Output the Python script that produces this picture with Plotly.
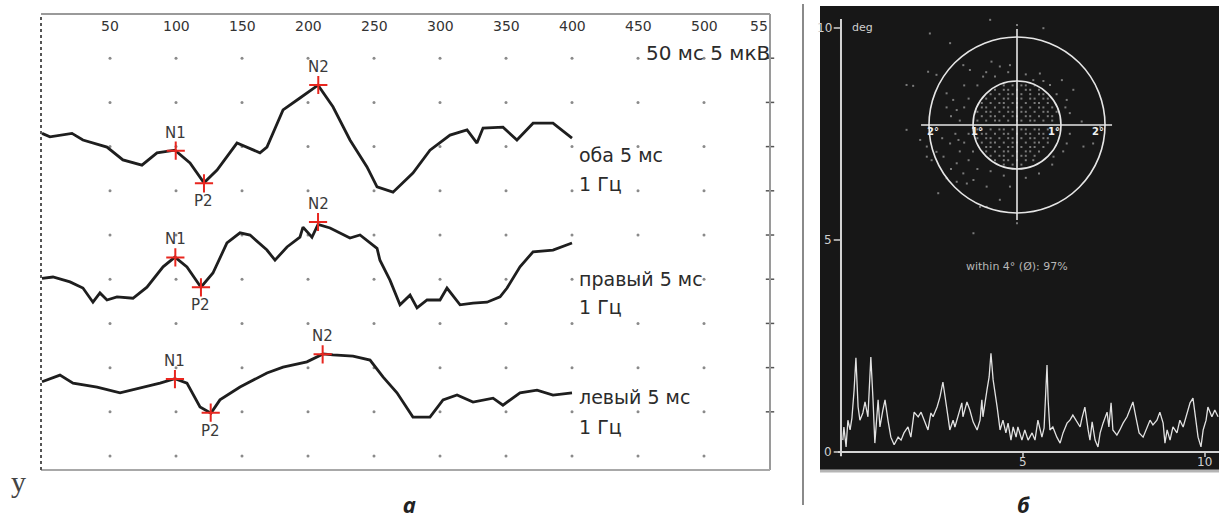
import plotly.graph_objects as go

W, H = 1219, 518


def fx(px):
    """Pixel column -> paper x."""
    return px / W


def fy(py):
    """Pixel row -> paper y."""
    return 1 - py / H


# ---------------- panel а: visual evoked potentials ----------------
# latency, ms / amplitude, µV (relative to each record's own baseline)
lat_both = [-1.5, 4.5, 21.2, 29.5, 47.7, 59.8, 74.2, 85.6, 99.2, 110.6, 121.2, 131.1,
            146.2, 153.8, 163.6, 168.9, 181.1, 193.9, 207.6, 218.9, 231.8, 244.7, 252.3,
            264.4, 279.5, 292.4, 307.6, 320.5, 328.0, 332.6, 347.7, 358.3, 370.5, 385.6, 400.0]
amp_both = [0.0, -0.4, 0.0, -0.75, -1.55, -3.0, -3.6, -2.2, -1.9, -3.35, -5.6, -4.15,
            -1.1, -1.55, -2.2, -1.55, 2.65, 4.0, 5.45, 3.0, -0.75, -3.8, -6.05,
            -6.65, -4.5, -1.9, -0.2, 0.4, -1.1, 0.6, 0.7, -0.75, 1.15, 1.15, -0.55]

lat_right = [-1.5, 6.8, 19.7, 29.5, 37.1, 42.4, 47.7, 55.3, 67.4, 78.0, 90.2, 99.2, 108.3,
             118.9, 128.0, 138.6, 148.5, 156.1, 168.9, 175.0, 184.1, 193.9, 196.2, 203.0,
             207.6, 216.7, 231.8, 239.4, 252.3, 254.5, 262.1, 269.7, 277.3, 282.6, 290.2,
             300.0, 305.3, 315.2, 325.0, 335.6, 345.5, 350.8, 360.6, 370.5, 385.6, 400.0]
amp_right = [0.0, 0.15, -0.4, -1.1, -2.7, -1.65, -2.45, -2.1, -2.25, -1.0, 1.3, 2.4, 1.3,
             -1.0, 0.6, 4.0, 5.15, 4.9, 3.2, 2.05, 3.55, 4.65, 5.8, 4.65,
             6.1, 5.7, 4.55, 4.9, 3.4, 2.05, -0.2, -3.0, -1.9, -3.35, -2.45,
             -2.45, -1.1, -3.0, -2.8, -2.7, -2.1, -1.1, 1.3, 3.0, 3.2, 4.0]

lat_left = [-1.5, 12.1, 22.0, 40.2, 57.6, 72.7, 87.9, 99.2, 108.3, 118.2, 126.5, 133.3,
            148.5, 168.9, 181.1, 199.2, 211.4, 218.9, 234.1, 247.0, 256.8, 267.4, 279.5,
            292.4, 302.3, 312.9, 325.0, 340.2, 347.7, 360.6, 373.5, 385.6, 400.0]
amp_left = [0.0, 0.75, -0.15, -0.6, -1.25, -0.7, -0.15, 0.35, -0.15, -2.85, -3.55, -2.05,
            -0.6, 1.0, 1.65, 2.25, 3.15, 3.05, 2.9, 2.45, 0.55, -1.25, -4.0,
            -4.0, -2.05, -1.5, -2.3, -1.85, -2.65, -1.25, -0.95, -1.5, -1.25]

# N1, P2, N2 components of each record
peak_names = ["N1", "P2", "N2"]
peak_lat_both = [99.8, 121.2, 207.8]
peak_amp_both = [-1.96, -5.65, 5.47]
peak_lat_right = [99.5, 118.9, 207.6]
peak_amp_right = [2.37, -1.02, 6.37]
peak_lat_left = [99.2, 126.3, 211.1]
peak_amp_left = [0.31, -3.5, 3.1]

record_names = ["оба 5 мс", "правый 5 мс", "левый 5 мс"]
record_rate = "1 Гц"

time_ticks = [50, 100, 150, 200, 250, 300, 350, 400, 450, 500, 550]
time_labels = ["50", "100", "150", "200", "250", "300", "350", "400", "450", "500", "55"]
amp_rows = [0, 5, 10, 15, 20, 25, 30, 35, 40, 45]
scale_text = "50 мс 5 мкВ"

# ---------------- panel б: fixation stability ----------------
time_s = [0.05, 0.08, 0.14, 0.19, 0.25, 0.30, 0.36, 0.41, 0.47, 0.52, 0.60, 0.66, 0.74, 0.77,
          0.82, 0.88, 0.93, 1.02, 1.07, 1.15, 1.21, 1.29, 1.37, 1.46, 1.57, 1.65, 1.73, 1.84,
          1.92, 2.01, 2.12, 2.20, 2.28, 2.39, 2.47,
          2.53, 2.64, 2.72, 2.80, 2.88, 2.94, 2.99, 3.08, 3.13, 3.21, 3.32, 3.35, 3.46, 3.54,
          3.63, 3.74, 3.82, 3.87, 3.90, 4.01, 4.07, 4.12, 4.18, 4.29, 4.37, 4.45, 4.53, 4.59,
          4.67, 4.73, 4.81, 4.86, 4.97, 5.05,
          5.14, 5.25, 5.33, 5.41, 5.52, 5.58, 5.66, 5.69, 5.74, 5.82, 5.93, 6.02, 6.10, 6.21,
          6.29, 6.37, 6.48, 6.57, 6.62, 6.70, 6.79, 6.84, 6.90, 6.98, 7.06, 7.12, 7.20, 7.31,
          7.36, 7.42, 7.47, 7.58, 7.66,
          7.75, 7.86, 7.94, 8.02, 8.10, 8.19, 8.30, 8.41, 8.49, 8.57, 8.68, 8.76, 8.85, 8.90,
          8.96, 9.04, 9.12, 9.23, 9.31, 9.40, 9.51, 9.59, 9.67, 9.73, 9.81, 9.89, 9.95, 10.03,
          10.08, 10.19, 10.27, 10.36]
deviation_deg = [0.28, 0.59, 0.12, 0.75, 0.52, 0.80, 1.46, 2.22, 1.06, 0.75, 0.92, 1.18, 0.83, 1.46,
                 2.24, 1.23, 0.21, 1.23, 0.59, 0.99, 1.23, 0.75, 0.35, 0.17, 0.35, 0.28, 0.45, 0.59,
                 0.35, 0.94, 0.83, 0.94, 0.75, 0.52, 0.92,
                 0.83, 1.06, 1.30, 1.65, 1.23, 0.83, 0.52, 0.75, 0.59, 0.83, 1.16, 0.83, 1.18, 0.99,
                 0.71, 0.52, 0.75, 1.23, 0.83, 1.46, 1.77, 2.33, 1.70, 1.06, 0.52, 0.75, 0.45, 0.68,
                 0.28, 0.59, 0.35, 0.59, 0.28, 0.52,
                 0.28, 0.45, 0.28, 0.75, 0.35, 0.57, 2.05, 1.23, 0.52, 0.59, 0.35, 0.21, 0.45, 0.68,
                 0.75, 0.87, 0.71, 0.59, 0.80, 1.06, 0.52, 0.28, 0.71, 0.28, 0.12, 0.45, 0.68, 0.94,
                 0.59, 1.16, 0.52, 0.40, 0.52,
                 0.68, 0.83, 0.99, 1.18, 0.83, 0.45, 0.35, 0.57, 0.75, 0.64, 0.75, 0.94, 0.68, 0.21,
                 0.52, 0.28, 0.59, 0.45, 0.75, 0.59, 0.92, 1.16, 1.27, 0.83, 0.35, 0.12, 0.52, 0.75,
                 1.06, 0.83, 0.99, 0.83]

# fixation points inside the 1° ring, row by row (vertical deg, horizontal deg)
core_row_y = [0.9, 0.8, 0.7, 0.6, 0.5, 0.4, 0.3, 0.2, 0.1, -0.1, -0.2, -0.3, -0.4, -0.5,
              -0.6, -0.7, -0.8, -0.9]
core_row_x = [
    [-0.3, -0.1, 0.1, 0.2, 0.4],
    [-0.5, -0.3, -0.2, 0.0, 0.2, 0.3, 0.5],
    [-0.6, -0.4, -0.2, -0.1, 0.1, 0.3, 0.5, 0.6],
    [-0.7, -0.5, -0.3, -0.2, 0.0, 0.1, 0.3, 0.4, 0.6, 0.7],
    [-0.8, -0.6, -0.4, -0.3, -0.1, 0.0, 0.2, 0.4, 0.5, 0.7],
    [-0.8, -0.7, -0.5, -0.3, -0.2, 0.0, 0.1, 0.3, 0.5, 0.6, 0.8],
    [-0.9, -0.7, -0.6, -0.4, -0.2, -0.1, 0.1, 0.2, 0.4, 0.6, 0.7, 0.9],
    [-0.8, -0.6, -0.5, -0.3, -0.1, 0.0, 0.2, 0.3, 0.5, 0.7, 0.8],
    [-0.9, -0.7, -0.5, -0.4, -0.2, 0.0, 0.1, 0.3, 0.4, 0.6, 0.8],
    [-0.9, -0.8, -0.6, -0.4, -0.3, -0.1, 0.1, 0.2, 0.4, 0.5, 0.7, 0.9],
    [-0.8, -0.7, -0.5, -0.3, -0.2, 0.0, 0.2, 0.3, 0.5, 0.6, 0.8],
    [-0.9, -0.7, -0.6, -0.4, -0.2, -0.1, 0.1, 0.3, 0.4, 0.6, 0.7],
    [-0.8, -0.6, -0.5, -0.3, -0.1, 0.0, 0.2, 0.4, 0.5, 0.7],
    [-0.7, -0.6, -0.4, -0.2, -0.1, 0.1, 0.3, 0.4, 0.6],
    [-0.7, -0.5, -0.3, -0.2, 0.0, 0.2, 0.3, 0.5],
    [-0.6, -0.4, -0.3, -0.1, 0.1, 0.2, 0.4],
    [-0.5, -0.3, -0.2, 0.0, 0.2],
    [-0.3, -0.1, 0.1],
]
# scattered fixation points outside the 1° ring
outer_x = [-0.61, 0.0, 0.60, -1.98, -1.52, -0.58, -0.39, -0.16, -1.22, -1.07, -0.77, -2.02, -1.83,
           0.37, 0.52, 0.75, 1.02, 1.28, -2.51, -2.36, -1.60, -1.45, -1.37, 1.13, 1.20, 1.47,
           -2.51, -2.20, -2.05, -1.83, -1.67, -1.37, -1.22, -0.99, -1.60, -1.37, -1.14, -0.69,
           -0.39, -0.16, 0.37, 0.83, 1.13, 1.51, 1.73, 1.89, -1.79, 0.0, -0.99, -0.84, -2.05,
           -1.94, -1.52, -1.33, -0.69,
           -1.1, -1.2, -1.3, -1.1, -1.2, -1.0, -1.1, -0.9, -1.3, -1.4, -1.5, -1.2, -0.9, -0.7,
           -0.5, -0.2, 0.2, 0.6, 0.9, 1.1, 1.2, 1.05, 0.8, 0.5, 0.2, -0.3, -0.6, -1.5, -1.7, -1.6]
outer_y = [2.39, 2.27, 2.20, 2.08, 1.86, 1.44, 1.33, 1.36, 1.36, 1.25, 1.10, 1.21, 1.14,
           1.02, 1.17, 0.91, 1.02, 0.80, 0.91, 0.89, 0.72, 0.57, 0.34, 0.57, 0.27, 0.08,
           -0.11, -0.34, -0.49, -0.61, -0.72, -0.87, -1.10, -1.25, -1.21, -1.29, -1.33, -1.40,
           -1.70, -1.40, -0.80, -0.72, -0.42, -0.49, -0.42, -0.04, -1.55, -2.23, -2.46, -1.86, -0.72,
           -0.80, -0.42, -0.34, -1.86,
           0.6, 0.4, 0.1, -0.2, -0.4, -0.6, -0.8, -1.0, -0.6, -0.2, 0.2, 0.9, 0.9, 1.2,
           1.1, 1.2, 1.15, 1.0, 0.7, 0.4, -0.2, -0.6, -0.9, -1.1, -1.2, -1.15, -1.05, -1.0, -0.3, 0.4]
ring_deg = [1, 2]
summary_text = "within 4° (Ø): 97%"
dev_ticks = [0, 5, 10]
time_ticks_s = [5, 10]

# ---------------- figure ----------------
fig = go.Figure()

# panel а layout offsets (baseline of each record, in µV of the plot axis)
offsets = [36.5, 20.1, 8.4]
records = [(lat_both, amp_both, peak_lat_both, peak_amp_both),
           (lat_right, amp_right, peak_lat_right, peak_amp_right),
           (lat_left, amp_left, peak_lat_left, peak_amp_left)]

# dotted reference grid
fig.add_trace(go.Scatter(
    x=[t for _ in amp_rows for t in time_ticks[:-1]],
    y=[r for r in amp_rows for _ in time_ticks[:-1]],
    mode="markers", marker=dict(size=3, color="#8a8a8a"),
    xaxis="x", yaxis="y", hoverinfo="skip"))
# ticks on the right frame
fig.add_trace(go.Scatter(
    x=[time_ticks[-1]] * (len(amp_rows) - 1), y=amp_rows[1:],
    mode="markers", marker=dict(symbol="line-ew", size=6, line=dict(width=1.5, color="#555")),
    xaxis="x", yaxis="y", cliponaxis=False, hoverinfo="skip"))

annotations = []
for (lat, amp, plat, pamp), off, name in zip(records, offsets, record_names):
    fig.add_trace(go.Scatter(
        x=lat, y=[a + off for a in amp], mode="lines",
        line=dict(color="#1e1e1e", width=2.8), xaxis="x", yaxis="y"))
    fig.add_trace(go.Scatter(
        x=plat, y=[a + off for a in pamp], mode="markers",
        marker=dict(symbol="cross-thin", size=13, line=dict(width=2, color="#e8261f")),
        xaxis="x", yaxis="y"))
    for pn, pl, pa in zip(peak_names, plat, pamp):
        annotations.append(dict(
            x=pl, y=pa + off, xref="x", yref="y", text=pn, showarrow=False,
            yshift=-18 if pn.startswith("P") else 18,
            font=dict(family="DejaVu Sans", size=15, color="#3a3a3a")))

# record captions to the right of the traces
caption_y = [(34.05, 30.77), (20.02, 16.86), (6.67, 3.28)]
cap_font = dict(family="DejaVu Sans", size=19, color="#2b2b2b")
for name, (y1, y2) in zip(record_names, caption_y):
    annotations.append(dict(x=404, y=y1, xref="x", yref="y", text=name, showarrow=False,
                            xanchor="left", yanchor="middle", font=cap_font))
    annotations.append(dict(x=404, y=y2, xref="x", yref="y", text=record_rate, showarrow=False,
                            xanchor="left", yanchor="middle", font=cap_font))

annotations.append(dict(x=454.5, y=45.6, xref="x", yref="y", text=scale_text, showarrow=False,
                        xanchor="left", yanchor="middle",
                        font=dict(family="DejaVu Sans", size=20, color="#2b2b2b")))

# time labels along the top, inside the frame
for t, lab in zip(time_ticks, time_labels):
    last = t == time_ticks[-1]
    annotations.append(dict(x=t, y=fy(26), xref="x", yref="paper", text=lab, showarrow=False,
                            xanchor="right" if last else "center", yanchor="middle",
                            font=dict(family="DejaVu Sans", size=14, color="#333")))

# panel б: deviation trace
fig.add_trace(go.Scatter(x=time_s, y=deviation_deg, mode="lines",
                         line=dict(color="#e2e2e2", width=1.3), xaxis="x2", yaxis="y2"))

# panel б: fixation scatter
gx = [x for row in core_row_x for x in row] + outer_x
gy = [y for y, row in zip(core_row_y, core_row_x) for _ in row] + outer_y
fig.add_trace(go.Scatter(x=gx, y=gy, mode="markers",
                         marker=dict(symbol="square", size=2, color="#7a7a7a"),
                         xaxis="x3", yaxis="y3"))

shapes = [
    # panel а frame
    dict(type="line", xref="x domain", yref="y domain", x0=0, x1=1, y0=1, y1=1,
         line=dict(color="#9a9a9a", width=2)),
    dict(type="line", xref="x domain", yref="y domain", x0=1, x1=1, y0=0, y1=1,
         line=dict(color="#9a9a9a", width=2)),
    dict(type="line", xref="x domain", yref="y domain", x0=0, x1=1, y0=0, y1=0,
         line=dict(color="#a8a8a8", width=2)),
    dict(type="line", xref="x domain", yref="y domain", x0=0, x1=0, y0=0, y1=1,
         line=dict(color="#555", width=2, dash="dot")),
    # divider between panels
    dict(type="line", xref="paper", yref="paper", x0=fx(803), x1=fx(803), y0=fy(4), y1=fy(505),
         line=dict(color="#8a8a8a", width=2)),
    # panel б dark background
    dict(type="rect", xref="paper", yref="paper", x0=fx(820), x1=1.0, y0=fy(470), y1=fy(6),
         fillcolor="#171717", line=dict(width=0), layer="below"),
    dict(type="line", xref="paper", yref="paper", x0=fx(820), x1=1.0, y0=fy(471), y1=fy(471),
         line=dict(color="#b5b5b5", width=3)),
    # panel б axes
    dict(type="line", xref="x2", yref="y2", x0=-0.08, x1=10.385, y0=0, y1=0,
         line=dict(color="#d4d4d4", width=2)),
    dict(type="line", xref="x2", yref="y2", x0=0, x1=0, y0=-0.1, y1=10.21,
         line=dict(color="#d4d4d4", width=2)),
]
tick_font = dict(family="DejaVu Sans", size=12, color="#d0d0d0")
for v in dev_ticks:
    shapes.append(dict(type="line", xref="x2", yref="y2", x0=-0.2, x1=0, y0=v, y1=v,
                       line=dict(color="#d4d4d4", width=1.5)))
    annotations.append(dict(x=-0.19, y=v, xref="x2", yref="y2", text=str(v), showarrow=False,
                            xanchor="right", yanchor="middle", font=tick_font))
for v in time_ticks_s:
    shapes.append(dict(type="line", xref="x2", yref="y2", x0=v, x1=v, y0=0, y1=-0.12,
                       line=dict(color="#d4d4d4", width=1.5)))
    annotations.append(dict(x=v, y=0, xref="x2", yref="y2", text=str(v), showarrow=False,
                            xanchor="center", yanchor="top", yshift=-1, font=tick_font))
annotations.append(dict(x=0.25, y=10, xref="x2", yref="y2", text="deg", showarrow=False,
                        xanchor="left", yanchor="middle",
                        font=dict(family="DejaVu Sans", size=11, color="#d0d0d0")))
annotations.append(dict(x=fx(1017), y=fy(266), xref="paper", yref="paper", text=summary_text,
                        showarrow=False, xanchor="center", yanchor="middle",
                        font=dict(family="DejaVu Sans", size=11, color="#b8b8b8")))

# target rings and crosshair
for r in ring_deg:
    shapes.append(dict(type="circle", xref="x3", yref="y3", x0=-r, x1=r, y0=-r, y1=r,
                       line=dict(color="#e6e6e6", width=1.6)))
    for side in (-1, 1):
        annotations.append(dict(x=side * (r - 0.08) if side < 0 else side * (r - 0.17), y=-0.14,
                                xref="x3", yref="y3", text="<b>%d°</b>" % r, showarrow=False,
                                xanchor="center", yanchor="middle",
                                font=dict(family="DejaVu Sans", size=10, color="#f0f0f0")))
shapes.append(dict(type="line", xref="x3", yref="y3", x0=-2.18, x1=2.16, y0=0, y1=0,
                   line=dict(color="#e6e6e6", width=1.6)))
shapes.append(dict(type="line", xref="x3", yref="y3", x0=0, x1=0, y0=-2.16, y1=2.18,
                   line=dict(color="#e6e6e6", width=1.6)))

# panel letters and stray mark
annotations.append(dict(x=fx(18), y=fy(481), xref="paper", yref="paper", text="у", showarrow=False,
                        xanchor="center", yanchor="middle",
                        font=dict(family="Liberation Serif", size=30, color="#444")))
annotations.append(dict(x=fx(409), y=fy(504), xref="paper", yref="paper", text="<b><i>а</i></b>",
                        showarrow=False, xanchor="center", yanchor="middle",
                        font=dict(family="Noto Sans", size=22, color="#222")))
annotations.append(dict(x=fx(1023), y=fy(504), xref="paper", yref="paper", text="<b><i>б</i></b>",
                        showarrow=False, xanchor="center", yanchor="middle",
                        font=dict(family="Noto Sans", size=22, color="#222")))

hidden = dict(visible=False, showgrid=False, zeroline=False)
fig.update_layout(
    width=W, height=H, margin=dict(l=0, r=0, t=0, b=0),
    paper_bgcolor="white", plot_bgcolor="rgba(0,0,0,0)", showlegend=False,
    font=dict(family="DejaVu Sans"),
    xaxis=dict(domain=[fx(41), fx(770)], range=[-2.27, 550.0], anchor="y", **hidden),
    yaxis=dict(domain=[fy(470), fy(14)], range=[-1.58, 50.0], anchor="x", **hidden),
    xaxis2=dict(domain=[fx(830), 1.0], range=[-0.302, 10.385], anchor="y2", **hidden),
    yaxis2=dict(domain=[fy(462), fy(12)], range=[-0.236, 10.377], anchor="x2", **hidden),
    xaxis3=dict(domain=[fx(897), fx(1137)], range=[-2.727, 2.727], anchor="y3", **hidden),
    yaxis3=dict(domain=[fy(245), fy(5)], range=[-2.727, 2.727], anchor="x3", **hidden),
    shapes=shapes, annotations=annotations,
)

fig.write_html("out.html")
